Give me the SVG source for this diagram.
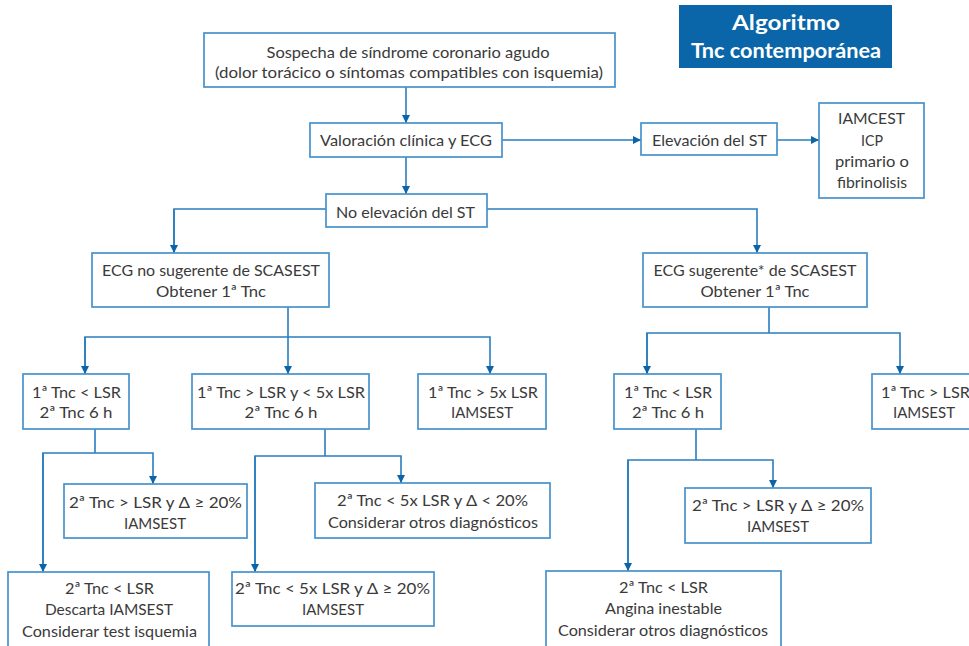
<svg xmlns="http://www.w3.org/2000/svg" width="969" height="646" viewBox="0 0 969 646">
<style>
.box{fill:#fff;stroke:#4792cc;stroke-width:1.7}
.t{font-family:Lato,"Open Sans","Liberation Sans",sans-serif;font-size:16px;fill:#3a3a3a;text-anchor:middle}
.title{font-family:Lato,"Liberation Sans",sans-serif;font-size:21px;font-weight:bold;fill:#fff;text-anchor:middle}
.ln{fill:none;stroke:#2a7dbf;stroke-width:1.6}
</style>
<defs>
<marker id="ah" viewBox="0 0 10 10" refX="10" refY="5" markerWidth="8" markerHeight="8" markerUnits="userSpaceOnUse" orient="auto">
<path d="M0,0 L10,5 L0,10 z" fill="#0b63a8"/>
</marker>
</defs>
<rect width="969" height="646" fill="#fff"/>
<g id="title">
<rect x="679" y="5" width="213" height="63" fill="#0a66a8"/>
<text class="title" x="786" y="30" textLength="108" lengthAdjust="spacingAndGlyphs">Algoritmo</text>
<text class="title" x="786" y="58" textLength="190" lengthAdjust="spacingAndGlyphs">Tnc contemporánea</text>
</g>
<g id="connectors">
<path class="ln" d="M406,87 V123" marker-end="url(#ah)"/>
<path class="ln" d="M502,140 H641" marker-end="url(#ah)"/>
<path class="ln" d="M777,140 H819" marker-end="url(#ah)"/>
<path class="ln" d="M406,157 V194" marker-end="url(#ah)"/>
<path class="ln" d="M174,253 V209 H757 V253" marker-end="url(#ah)"/>
<path class="ln" d="M174,209 V253" marker-end="url(#ah)"/>
<path class="ln" d="M288,307 V337"/>
<path class="ln" d="M85,374 V337 H490 V374" marker-end="url(#ah)"/>
<path class="ln" d="M85,337 V374" marker-end="url(#ah)"/>
<path class="ln" d="M288,337 V374" marker-end="url(#ah)"/>
<path class="ln" d="M769,307 V333"/>
<path class="ln" d="M647,374 V333 H900 V374" marker-end="url(#ah)"/>
<path class="ln" d="M647,333 V374" marker-end="url(#ah)"/>
<path class="ln" d="M95,429 V453"/>
<path class="ln" d="M43,572 V453 H153 V484" marker-end="url(#ah)"/>
<path class="ln" d="M43,453 V572" marker-end="url(#ah)"/>
<path class="ln" d="M325,429 V456"/>
<path class="ln" d="M255,572 V456 H401 V483" marker-end="url(#ah)"/>
<path class="ln" d="M255,456 V572" marker-end="url(#ah)"/>
<path class="ln" d="M696,429 V460"/>
<path class="ln" d="M628,571 V460 H773 V488" marker-end="url(#ah)"/>
<path class="ln" d="M628,460 V571" marker-end="url(#ah)"/>
</g>
<g id="n1">
<rect class="box" x="204" y="33" width="411" height="54"/>
<text class="t" x="408" y="57.5" textLength="283" lengthAdjust="spacingAndGlyphs">Sospecha de síndrome coronario agudo</text>
<text class="t" x="409" y="77.5" textLength="388" lengthAdjust="spacingAndGlyphs">(dolor torácico o síntomas compatibles con isquemia)</text>
</g>
<g id="n2">
<rect class="box" x="310" y="123" width="192" height="34"/>
<text class="t" x="406" y="145.5" textLength="172" lengthAdjust="spacingAndGlyphs">Valoración clínica y ECG</text>
</g>
<g id="n3">
<rect class="box" x="641" y="123" width="136" height="32"/>
<text class="t" x="709.5" y="145.5" textLength="115" lengthAdjust="spacingAndGlyphs">Elevación del ST</text>
</g>
<g id="n4">
<rect class="box" x="819" y="103" width="105" height="95"/>
<text class="t" x="871.5" y="123.5" textLength="67" lengthAdjust="spacingAndGlyphs">IAMCEST</text>
<text class="t" x="872" y="145.5" textLength="22" lengthAdjust="spacingAndGlyphs">ICP</text>
<text class="t" x="872" y="166.5" textLength="74" lengthAdjust="spacingAndGlyphs">primario o</text>
<text class="t" x="872" y="188" textLength="70" lengthAdjust="spacingAndGlyphs">fibrinolisis</text>
</g>
<g id="n5">
<rect class="box" x="326" y="194" width="161" height="33"/>
<text class="t" x="405.5" y="217.5" textLength="139" lengthAdjust="spacingAndGlyphs">No elevación del ST</text>
</g>
<g id="n6">
<rect class="box" x="92" y="253" width="237" height="54"/>
<text class="t" x="211" y="276" textLength="218" lengthAdjust="spacingAndGlyphs">ECG no sugerente de SCASEST</text>
<text class="t" x="211" y="297" textLength="110" lengthAdjust="spacingAndGlyphs">Obtener 1ª Tnc</text>
</g>
<g id="n7">
<rect class="box" x="643" y="253" width="224" height="54"/>
<text class="t" x="755" y="276" textLength="203" lengthAdjust="spacingAndGlyphs">ECG sugerente* de SCASEST</text>
<text class="t" x="755" y="297" textLength="109" lengthAdjust="spacingAndGlyphs">Obtener 1ª Tnc</text>
</g>
<g id="n8">
<rect class="box" x="23" y="374" width="106" height="55"/>
<text class="t" x="76.5" y="397.5" textLength="89" lengthAdjust="spacingAndGlyphs">1ª Tnc &lt; LSR</text>
<text class="t" x="76" y="418" textLength="73" lengthAdjust="spacingAndGlyphs">2ª Tnc 6 h</text>
</g>
<g id="n9">
<rect class="box" x="192" y="374" width="177" height="55"/>
<text class="t" x="281" y="397.5" textLength="168" lengthAdjust="spacingAndGlyphs">1ª Tnc &gt; LSR y &lt; 5x LSR</text>
<text class="t" x="281" y="418" textLength="73" lengthAdjust="spacingAndGlyphs">2ª Tnc 6 h</text>
</g>
<g id="n10">
<rect class="box" x="418" y="374" width="128" height="55"/>
<text class="t" x="483" y="397.5" textLength="110" lengthAdjust="spacingAndGlyphs">1ª Tnc &gt; 5x LSR</text>
<text class="t" x="482" y="418" textLength="62" lengthAdjust="spacingAndGlyphs">IAMSEST</text>
</g>
<g id="n11">
<rect class="box" x="614" y="374" width="107" height="55"/>
<text class="t" x="668" y="397.5" textLength="88" lengthAdjust="spacingAndGlyphs">1ª Tnc &lt; LSR</text>
<text class="t" x="668" y="418" textLength="72" lengthAdjust="spacingAndGlyphs">2ª Tnc 6 h</text>
</g>
<g id="n12">
<rect class="box" x="872" y="374" width="108" height="55"/>
<text class="t" x="925.5" y="397.5" textLength="89" lengthAdjust="spacingAndGlyphs">1ª Tnc &gt; LSR</text>
<text class="t" x="924" y="418" textLength="62" lengthAdjust="spacingAndGlyphs">IAMSEST</text>
</g>
<g id="n13">
<rect class="box" x="64" y="484" width="183" height="54"/>
<text class="t" x="155.5" y="507.5" textLength="173" lengthAdjust="spacingAndGlyphs">2ª Tnc &gt; LSR y Δ ≥ 20%</text>
<text class="t" x="155" y="528.5" textLength="62" lengthAdjust="spacingAndGlyphs">IAMSEST</text>
</g>
<g id="n14">
<rect class="box" x="8" y="572" width="201" height="80"/>
<text class="t" x="109.5" y="593.5" textLength="89" lengthAdjust="spacingAndGlyphs">2ª Tnc &lt; LSR</text>
<text class="t" x="109" y="614.5" textLength="128" lengthAdjust="spacingAndGlyphs">Descarta IAMSEST</text>
<text class="t" x="109.5" y="636.5" textLength="175" lengthAdjust="spacingAndGlyphs">Considerar test isquemia</text>
</g>
<g id="n15">
<rect class="box" x="315" y="483" width="235" height="55"/>
<text class="t" x="432.5" y="505.5" textLength="191" lengthAdjust="spacingAndGlyphs">2ª Tnc &lt; 5x LSR y Δ &lt; 20%</text>
<text class="t" x="433" y="527.5" textLength="210" lengthAdjust="spacingAndGlyphs">Considerar otros diagnósticos</text>
</g>
<g id="n16">
<rect class="box" x="232" y="572" width="202" height="54"/>
<text class="t" x="332.5" y="593.5" textLength="195" lengthAdjust="spacingAndGlyphs">2ª Tnc &lt; 5x LSR y Δ ≥ 20%</text>
<text class="t" x="333" y="614.5" textLength="62" lengthAdjust="spacingAndGlyphs">IAMSEST</text>
</g>
<g id="n17">
<rect class="box" x="685" y="488" width="186" height="55"/>
<text class="t" x="778" y="510.5" textLength="172" lengthAdjust="spacingAndGlyphs">2ª Tnc &gt; LSR y Δ ≥ 20%</text>
<text class="t" x="778" y="531.5" textLength="62" lengthAdjust="spacingAndGlyphs">IAMSEST</text>
</g>
<g id="n18">
<rect class="box" x="546" y="571" width="235" height="80"/>
<text class="t" x="663.5" y="592.5" textLength="89" lengthAdjust="spacingAndGlyphs">2ª Tnc &lt; LSR</text>
<text class="t" x="663.5" y="613.5" textLength="117" lengthAdjust="spacingAndGlyphs">Angina inestable</text>
<text class="t" x="663" y="635.5" textLength="210" lengthAdjust="spacingAndGlyphs">Considerar otros diagnósticos</text>
</g>
</svg>
